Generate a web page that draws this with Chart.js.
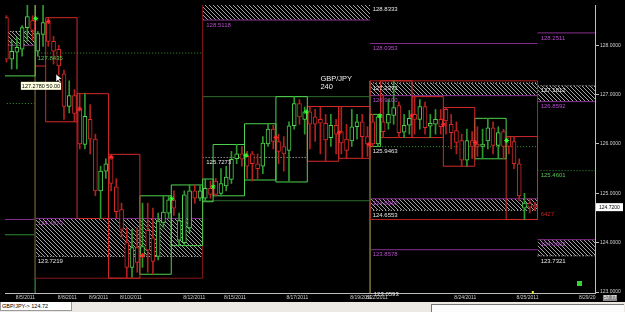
<!DOCTYPE html>
<html>
<head>
<meta charset="utf-8">
<script src="https://cdn.jsdelivr.net/npm/chart.js@4.4.1/dist/chart.umd.min.js"></script>
<style>
html, body { margin: 0; padding: 0; background: #000; overflow: hidden; }
#wrap { position: absolute; left: 0; top: 0; width: 625px; height: 302px; }
#status { position: absolute; left: 0; top: 302px; width: 625px; height: 10px; background: #ece9e4; }
#sym { position: absolute; left: 0; top: 0; width: 72px; height: 9px; background: #fff; border: 1px solid #9a9a9a; border-top: 0;
       font: 5.5px "Liberation Sans", Arial, sans-serif; line-height: 9px; color: #000; padding-left: 1px; box-sizing: border-box; }
#pane { position: absolute; left: 431px; top: 2px; width: 192px; height: 10px; background: #fbfbfb; border-left: 1px solid #777; border-top: 1px solid #777; }
</style>
</head>
<body>
<div id="wrap"><canvas id="chart" width="625" height="302"></canvas></div>
<div id="status"><div id="sym">GBP/JPY-&gt; 124.72</div><div id="pane"></div></div>
<script>
// 240 minute candles, one per bar index
const opens = [128.56,127.72,127.86,127.92,128.36,128.50,127.88,128.22,128.46,128.08,127.92,127.42,126.76,126.98,126.70,125.99,126.50,126.10,125.05,125.45,
  125.75,125.13,124.67,124.00,123.50,123.90,123.72,124.25,124.10,123.72,124.40,124.60,124.87,124.05,124.00,124.30,125.05,124.90,124.90,125.10,
  125.25,125.00,125.15,125.28,125.70,125.80,125.75,125.80,125.60,125.55,126.00,126.30,126.05,125.95,125.87,126.37,126.82,126.50,126.65,126.55,
  126.50,126.42,126.13,126.38,126.25,126.10,126.06,126.35,126.45,126.15,126.45,126.00,126.45,126.42,126.58,126.78,126.24,126.38,126.60,126.50,
  126.76,126.36,126.40,126.50,126.70,126.40,126.27,126.07,125.67,126.07,126.00,125.95,126.06,126.33,125.97,126.25,126.15,126.05,125.60,124.70,
  124.80,124.75];
const highs = [128.60,128.12,128.16,128.40,128.82,128.60,128.28,128.82,128.56,128.18,128.00,127.50,127.28,127.10,127.02,127.02,126.80,126.20,125.55,125.70,
  125.79,125.30,124.80,124.30,124.27,124.30,124.80,124.80,124.70,124.60,124.95,124.95,125.05,124.60,125.05,125.17,125.17,125.15,125.29,125.25,
  125.30,125.50,125.55,125.85,125.99,125.95,125.85,125.85,125.80,126.15,126.41,126.38,126.20,126.15,126.45,126.96,126.90,126.75,126.76,126.70,
  126.75,126.60,126.60,126.50,126.76,126.40,126.70,126.60,126.60,126.35,126.60,126.60,127.00,126.90,127.28,126.85,126.60,126.68,126.96,126.90,
  126.85,126.60,126.70,126.70,126.74,126.60,126.45,126.20,126.30,126.25,126.35,126.30,126.52,126.45,126.35,126.30,126.15,126.15,125.70,125.00,
  124.90,124.82];
const lows = [127.66,127.52,127.52,127.78,128.08,128.10,127.78,127.98,127.98,127.62,127.40,126.50,126.63,126.45,125.90,125.90,125.80,124.95,124.49,125.30,
  125.05,124.50,124.10,123.28,123.30,123.40,123.50,123.40,123.36,123.65,124.30,124.50,124.55,123.94,123.95,124.20,124.80,124.85,124.83,124.90,
  124.95,124.95,125.05,125.20,125.60,125.55,125.30,125.25,125.30,125.40,125.95,125.90,125.60,125.45,125.25,126.30,126.40,126.20,125.90,126.05,
  125.80,125.65,125.95,125.80,125.80,125.70,125.95,126.10,125.71,125.75,125.95,125.95,126.13,126.30,126.40,126.13,126.13,126.20,126.20,126.30,
  126.20,126.13,126.20,126.20,126.20,125.90,125.80,125.55,125.55,125.70,125.75,125.70,125.90,125.80,125.72,125.70,125.80,125.50,124.85,124.47,
  124.60,124.65];
const closes = [127.72,127.88,127.96,128.36,128.58,128.30,128.24,128.46,128.08,127.88,127.58,126.76,126.98,126.62,126.00,126.56,126.10,125.05,125.45,125.60,
  125.20,124.63,124.27,123.50,123.90,123.60,123.92,123.85,123.62,124.44,124.62,124.87,124.70,124.45,124.97,125.05,124.90,125.05,125.10,124.98,
  124.98,125.20,125.33,125.69,125.80,125.69,125.55,125.60,125.50,126.02,126.30,126.05,125.85,125.80,126.37,126.82,126.55,126.65,126.40,126.40,
  126.42,126.08,126.38,126.20,126.02,125.87,126.35,126.45,126.15,126.00,126.00,126.55,126.25,126.60,126.74,126.23,126.38,126.52,126.50,126.76,
  126.33,126.42,126.50,126.35,126.47,126.23,126.03,125.67,126.07,125.95,125.95,126.00,126.33,125.97,126.23,125.95,125.95,125.60,124.95,124.80,
  124.72,124.72];

// daily range boxes (bar index from/to, high, low, 1 = up day)
const boxFrom = [0, 8, 14, 20, 26, 32, 38, 40, 46, 52, 58, 64, 70, 72, 78, 84, 90, 96];
const boxTo   = [5, 13, 19, 25, 31, 37, 39, 45, 51, 57, 63, 69, 71, 77, 83, 89, 95, 101];
const boxHigh = [129.0, 128.56, 127.02, 125.79, 124.95, 125.17, 125.29, 125.99, 126.41, 126.96, 126.76, 126.76, 126.60, 127.28, 126.96, 126.74, 126.52, 126.15];
const boxLow  = [127.38, 126.45, 124.49, 123.28, 123.36, 123.94, 124.83, 124.95, 125.27, 125.23, 125.65, 125.71, 125.95, 126.13, 126.13, 125.55, 125.70, 124.47];
const boxUp   = [1, 0, 0, 0, 1, 1, 1, 1, 1, 1, 0, 0, 1, 0, 0, 0, 1, 0];

// weekly range boxes
const weekFrom = [6, 38, 70];
const weekTo   = [37, 69, 101];
const weekHigh = [129.0, 126.96, 127.28];
const weekLow  = [123.28, 124.85, 124.47];
const weekKind = ['wkRed', 'wkGreen', 'wkBright'];

// hatched zones
const zoneFrom   = [-0.5, 5.5, 37.5, 69.5, 69.5, 101.5, 101.5];
const zoneTo     = [5.5, 37.5, 69.5, 101.5, 101.5, 113, 113];
const zoneTop    = [128.28, 124.49, 128.8333, 127.2373, 124.89, 127.18, 124.06];
const zoneBottom = [128.00, 123.7219, 128.5118, 126.98, 124.6553, 126.8592, 123.7321];

// horizontal levels
const lvlFrom  = [-0.5, -0.5, -0.5, -0.5, -0.5, 5.5, 5.5, 5.5, 37.5, 37.5, 69.5, 69.5, 69.5, 69.5, 69.5, 69.5, 69.5, 101.5, 101.5, 101.5, 101.5, 101.5, 101.5, 5.5];
const lvlTo    = [5.5, 5.5, 5.5, 5.5, 5.5, 37.5, 37.5, 37.5, 69.5, 57.5, 101.5, 101.5, 101.5, 101.5, 101.5, 101.5, 101.5, 113, 113, 113, 113, 113, 113, 7.5];
const lvlPrice = [128.28, 128.00, 126.82, 124.47, 124.16, 127.8435, 124.49, 123.7219, 128.5118, 125.7273, 128.0353, 127.2373, 126.98, 125.9463, 124.89, 124.6553, 123.8578,
                  128.2511, 127.18, 126.8592, 125.4601, 124.06, 123.7321, 127.58];
const lvlKind  = ['dotWhite', 'purple', 'dotGreen', 'purple', 'green', 'dotGreen', 'purple', 'dotWhite', 'purple', 'dotWhite', 'purple', 'dotWhite', 'purple', 'dotGreen', 'purple', 'dotWhite', 'purple',
                  'purple', 'dotWhite', 'purple', 'dotGreen', 'purple', 'dotWhite', 'down'];

// vertical separators
const vAt   = [5.5, 69.5];
const vTop  = [129.0, 127.28];
const vKind = ['wkGreen', 'olive'];

// level labels
const lblText  = ['127.8435', '124.4973', '123.7219', '128.5118', '125.7273', '128.8333', '128.0353', '127.2373', '126.9100', '125.9463', '124.8910', '124.6553', '123.8578', '123.0593',
                  '128.2511', '127.1812', '126.8592', '125.4601', '6427', '124.0602', '123.7321'];
const lblX     = [5.8, 5.8, 5.8, 38.0, 38.0, 69.8, 69.8, 69.8, 69.8, 69.8, 69.8, 69.8, 69.8, 70.0,
                  101.9, 101.9, 101.9, 101.9, 101.9, 101.9, 101.9];
const lblPrice = [127.8435, 124.49, 123.7219, 128.5118, 125.7273, 128.8333, 128.0353, 127.2373, 126.98, 125.9463, 124.89, 124.6553, 123.8578, 123.0593,
                  128.2511, 127.18, 126.8592, 125.4601, 124.68, 124.06, 123.7321];
const lblKind  = ['green', 'purple', 'white', 'purple', 'white', 'white', 'purple', 'white', 'purple', 'white', 'purple', 'white', 'purple', 'white',
                  'purple', 'white', 'purple', 'green', 'red', 'purple', 'white'];

// arrow markers at the start of each day
const markX     = [5.6, 8.0, 14.0, 20.0, 26.0, 31.6, 39.5, 45.8, 51.5, 57.3, 63.6, 69.3, 71.4, 77.4, 83.5, 89.6, 95.6];
const markPrice = [128.54, 128.48, 126.71, 125.73, 123.74, 124.89, 125.13, 125.77, 126.13, 126.65, 126.23, 125.99, 126.57, 126.57, 126.39, 126.03, 126.07];
const markUp    = [1, 0, 0, 0, 0, 1, 1, 1, 0, 1, 0, 0, 1, 0, 0, 0, 1];

// axes
const dateTickPos = [1.8, 9.8, 15.8, 21.7, 33.8, 41.6, 53.5, 65.7, 68.7, 85.6, 97.5, 109.4];
const dateTicks   = ['8/5/2011', '8/8/2011', '8/9/2011', '8/10/2011', '8/12/2011', '8/15/2011', '8/17/2011', '8/19/2011', '8/22/2011', '8/24/2011', '8/25/2011', '8/29/20'];
const priceTicks  = [123, 124, 125, 126, 127, 128];
const lastPrice = 124.72;

const colors = {
  up: '#4fd34f', down: '#d42a2a', upWick: '#2f9a2f', downWick: '#b32020',
  purple: '#86308f', dotWhite: '#cfcfcf', dotGreen: '#3a9a3a', green: '#2e8b2e',
  wkRed: '#8e1818', wkGreen: '#2d6b2d', wkBright: '#b81e1e', olive: '#6e6b34',
  white: '#e6e6e6', red: '#d02020', lblPurple: '#b84ccc', lblGreen: '#55c455'
};
const lblColor = { green: colors.lblGreen, purple: colors.lblPurple, white: colors.white, red: colors.red };
const axisFont = '5px "Liberation Sans"';

// diagonal hatch fill
function makeHatch() {
  const c = document.createElement('canvas');
  c.width = 4; c.height = 4;
  const g = c.getContext('2d');
  g.fillStyle = '#000';
  g.fillRect(0, 0, 4, 4);
  g.strokeStyle = '#a4a4a4';
  g.lineWidth = 1;
  g.beginPath();
  g.moveTo(-1, -1); g.lineTo(5, 5);
  g.moveTo(-1, 3); g.lineTo(1, 5);
  g.moveTo(3, -1); g.lineTo(5, 1);
  g.stroke();
  return g.createPattern(c, 'repeat');
}
const hatch = makeHatch();

const datasets = [];

zoneFrom.forEach((f, i) => {
  datasets.push({
    type: 'line', order: 60,
    data: [{ x: f, y: zoneTop[i] }, { x: zoneTo[i], y: zoneTop[i] }],
    borderWidth: 0, pointRadius: 0,
    backgroundColor: hatch, fill: { value: zoneBottom[i] }
  });
});

lvlFrom.forEach((f, i) => {
  const k = lvlKind[i];
  datasets.push({
    type: 'line', order: 50,
    data: [{ x: f, y: lvlPrice[i] }, { x: lvlTo[i], y: lvlPrice[i] }],
    borderColor: colors[k], borderWidth: 1, pointRadius: 0,
    borderDash: k.startsWith('dot') ? [1, 2] : []
  });
});

vAt.forEach((v, i) => {
  datasets.push({
    type: 'line', order: 45,
    data: [{ x: v, y: vTop[i] }, { x: v, y: 122.9 }],
    borderColor: colors[vKind[i]], borderWidth: 1, pointRadius: 0
  });
});

function rect(a, b, hi, lo) {
  return [{ x: a, y: hi }, { x: b, y: hi }, { x: b, y: lo }, { x: a, y: lo }, { x: a, y: hi }];
}

weekFrom.forEach((f, i) => {
  datasets.push({
    type: 'line', order: 40,
    data: rect(f - 0.5, weekTo[i] + 0.5, weekHigh[i], weekLow[i]),
    borderColor: colors[weekKind[i]], borderWidth: 1, pointRadius: 0, borderDash: [1000, 0]
  });
});

boxFrom.forEach((f, i) => {
  datasets.push({
    type: 'line', order: 30,
    data: rect(f - 0.5, boxTo[i] + 0.5, boxHigh[i], boxLow[i]),
    borderColor: boxUp[i] ? colors.up : colors.down, borderWidth: 1, pointRadius: 0, borderDash: [1000, 0]
  });
});

const isUp = opens.map((o, i) => closes[i] >= o);

datasets.push({
  type: 'bar', order: 20, grouped: false, barThickness: 1,
  data: opens.map((o, i) => ({ x: i, y: [lows[i], highs[i]] })),
  backgroundColor: isUp.map(u => u ? colors.upWick : colors.downWick),
  borderWidth: 0
});

datasets.push({
  type: 'bar', order: 10, grouped: false, barThickness: 4, minBarLength: 2,
  data: opens.map((o, i) => ({ x: i, y: [o, closes[i]] })),
  backgroundColor: '#000',
  borderColor: isUp.map(u => u ? colors.up : colors.down),
  borderWidth: 1, borderSkipped: false
});

datasets.push({
  type: 'line', order: 5, showLine: false,
  data: markX.map((m, i) => ({ x: m, y: markPrice[i] })),
  pointStyle: 'star', pointRadius: 2.5, borderWidth: 1,
  pointBorderColor: markUp.map(u => u ? '#33ff33' : '#ff2a2a')
});

const annotations = {
  id: 'annotations',
  afterDatasetsDraw(chart) {
    const { ctx, scales: { x, y } } = chart;
    ctx.save();
    ctx.textBaseline = 'top';
    ctx.font = '6px "Liberation Sans"';
    lblText.forEach((t, i) => {
      ctx.fillStyle = lblColor[lblKind[i]];
      ctx.fillText(t, x.getPixelForValue(lblX[i]) + 1, y.getPixelForValue(lblPrice[i]) + 2);
    });

    // symbol caption
    ctx.font = '7.5px "Liberation Sans"';
    ctx.fillStyle = '#f0f0f0';
    const cx = x.getPixelForValue(60.0), cy = y.getPixelForValue(127.40);
    ctx.fillText('GBP/JPY', cx, cy);
    ctx.fillText('240', cx, cy + 8);

    // crosshair readout and pointer
    ctx.font = '5.5px "Liberation Sans"';
    const tip = '127.2780 50.00';
    const tx = x.getPixelForValue(2.76), ty = y.getPixelForValue(127.26);
    const tw = ctx.measureText(tip).width + 2;
    ctx.fillStyle = '#ffffe1';
    ctx.fillRect(tx, ty, tw, 8);
    ctx.fillStyle = '#000';
    ctx.fillText(tip, tx + 1, ty + 1.5);
    const mx = Math.round(x.getPixelForValue(9.4)), my = Math.round(y.getPixelForValue(127.42));
    ctx.beginPath();
    ctx.moveTo(mx, my); ctx.lineTo(mx, my + 8); ctx.lineTo(mx + 2, my + 6); ctx.lineTo(mx + 4, my + 9);
    ctx.lineTo(mx + 5, my + 8); ctx.lineTo(mx + 3, my + 5); ctx.lineTo(mx + 6, my + 5); ctx.closePath();
    ctx.fillStyle = '#fff'; ctx.fill();
    ctx.strokeStyle = '#000'; ctx.lineWidth = 0.5; ctx.stroke();
    ctx.restore();
  },
  afterDraw(chart) {
    const { ctx, scales: { x, y } } = chart;
    ctx.save();
    // date labels along the time axis
    ctx.font = axisFont;
    ctx.fillStyle = '#cfcfcf';
    ctx.textBaseline = 'top';
    dateTicks.forEach((t, i) => {
      ctx.fillText(t, x.getPixelForValue(dateTickPos[i]), x.top + 2.5);
    });
    // last price tag
    const py = y.getPixelForValue(lastPrice);
    ctx.fillStyle = '#fff';
    ctx.fillRect(y.left + 1, py - 4, 27, 8);
    ctx.fillStyle = '#000';
    ctx.textBaseline = 'middle';
    ctx.fillText(lastPrice.toFixed(4), y.left + 4, py);
    // small corner widgets
    ctx.fillStyle = '#33d633';
    ctx.fillRect(x.right - 18, y.bottom - 12, 5, 5);
    ctx.fillStyle = '#e8e830';
    ctx.fillRect(x.getPixelForValue(100.4), y.bottom - 2, 2, 3);
    ctx.fillStyle = '#8a8a8a';
    ctx.fillRect(y.left + 8, x.top + 2, 14, 6);
    ctx.fillStyle = '#fff';
    ctx.fillText('57', y.left + 9, x.top + 5);
    ctx.fillText('77', y.left + 16, x.top + 5);
    ctx.restore();
  }
};

new Chart(document.getElementById('chart'), {
  type: 'bar',
  data: { datasets },
  options: {
    responsive: false,
    devicePixelRatio: 1,
    animation: false,
    events: [],
    layout: { padding: 0 },
    plugins: { legend: { display: false }, tooltip: { enabled: false } },
    scales: {
      x: {
        type: 'linear', offset: false, min: -0.273, max: 112.48,
        afterBuildTicks: s => { s.ticks = dateTickPos.map(v => ({ value: v })); },
        afterFit: s => { s.height = 9; },
        grid: { display: false },
        border: { color: '#bdbdbd' },
        ticks: { display: false }
      },
      y: {
        position: 'right', min: 122.98, max: 128.817,
        afterBuildTicks: s => { s.ticks = priceTicks.map(v => ({ value: v })); },
        afterFit: s => { s.width = 30; },
        grid: { drawOnChartArea: false, tickLength: 4, color: '#bdbdbd' },
        border: { color: '#bdbdbd' },
        ticks: {
          callback: v => v.toFixed(4), padding: 1,
          color: '#cfcfcf', font: { family: 'Liberation Sans', size: 5 }
        }
      }
    }
  },
  plugins: [annotations]
});
</script>
</body>
</html>
